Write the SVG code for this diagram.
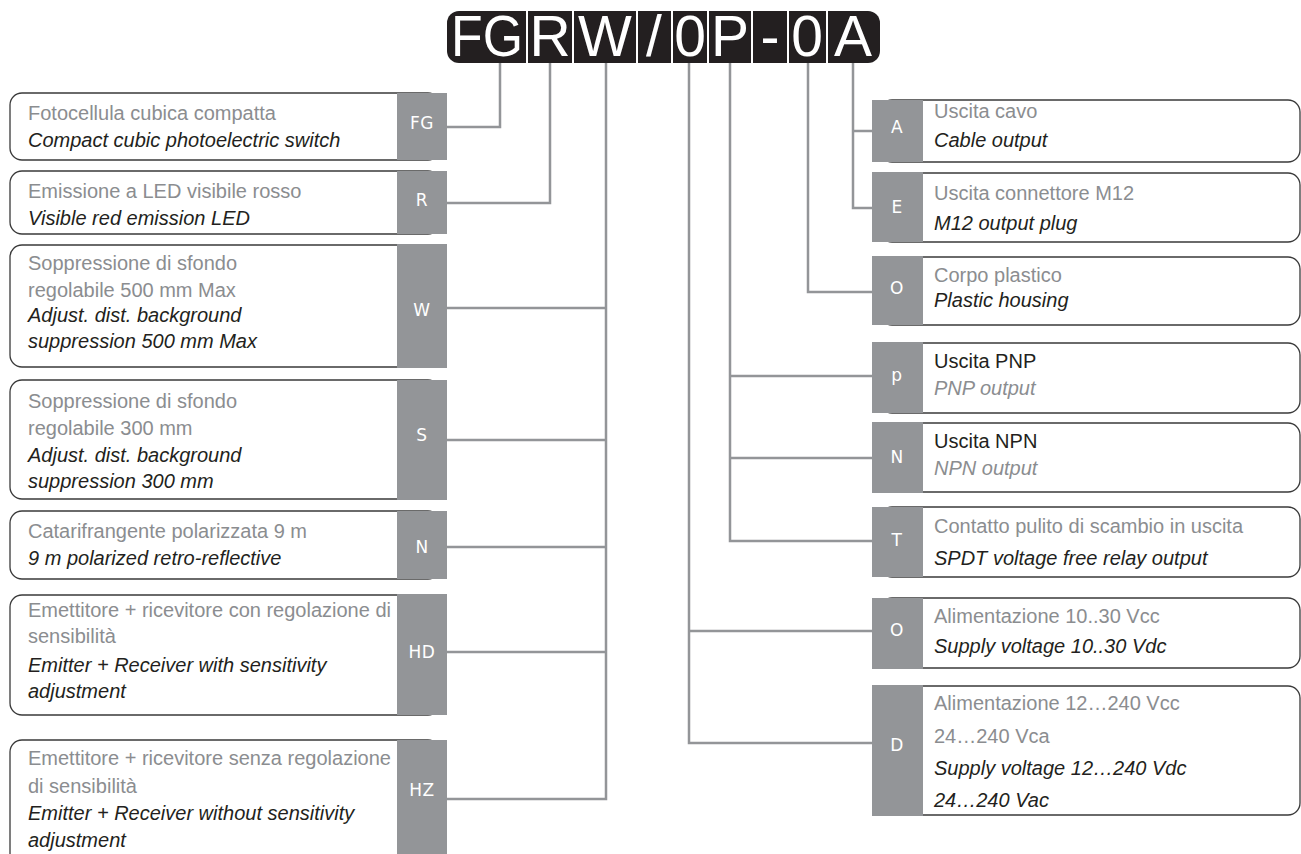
<svg xmlns="http://www.w3.org/2000/svg" width="1301" height="854" viewBox="0 0 1301 854">
<style>
.box{fill:#fff;stroke:#3a3a3a;stroke-width:1.3}
.tag{fill:#939598}
.tl{font-family:"DejaVu Sans",sans-serif;font-size:17px;fill:#fff;text-anchor:middle;letter-spacing:0.5px}
.tx{font-family:"Liberation Sans",Arial,sans-serif;font-size:20px}
.g{fill:#8b8d90}
.k{fill:#231f20}
.i{font-style:italic}
.conn{fill:none;stroke:#939598;stroke-width:2.5}
.hdr{font-family:"Liberation Sans",Arial,sans-serif;font-size:57px;fill:#fff;text-anchor:middle}
.sep{stroke:#fff;stroke-width:2}
</style>
<rect width="1301" height="854" fill="#fff"/>

<g id="header">
<rect x="447" y="11" width="433" height="52" rx="12" fill="#231f20"/>
<g class="sep">
<line x1="527" y1="11" x2="527" y2="63"/>
<line x1="573" y1="11" x2="573" y2="63"/>
<line x1="637" y1="11" x2="637" y2="63"/>
<line x1="672" y1="11" x2="672" y2="63"/>
<line x1="708" y1="11" x2="708" y2="63"/>
<line x1="752" y1="11" x2="752" y2="63"/>
<line x1="788" y1="11" x2="788" y2="63"/>
<line x1="827" y1="11" x2="827" y2="63"/>
</g>
<text class="hdr" x="487" y="56" textLength="72" lengthAdjust="spacingAndGlyphs">FG</text>
<text class="hdr" x="550" y="56">R</text>
<text class="hdr" x="605" y="56">W</text>
<text class="hdr" x="654" y="56">/</text>
<text class="hdr" x="690" y="56">0</text>
<text class="hdr" x="730" y="56">P</text>
<text class="hdr" x="770" y="56">-</text>
<text class="hdr" x="807" y="56">0</text>
<text class="hdr" x="853" y="56">A</text>
</g>

<g id="connectors">
<path class="conn" d="M500,63 V127 H447"/>
<path class="conn" d="M550,63 V203 H447"/>
<path class="conn" d="M606,63 V799 H447 M606,308 H447 M606,440 H447 M606,547 H447 M606,652 H447"/>
<path class="conn" d="M853,63 V208 H872 M853,131 H872"/>
<path class="conn" d="M808,63 V292 H872"/>
<path class="conn" d="M730,63 V541 H872 M730,376 H872 M730,458 H872"/>
<path class="conn" d="M689,63 V743 H872 M689,631 H872"/>
</g>

<g id="node-FG">
<rect class="box" x="10" y="93" width="430" height="67" rx="12"/>
<rect class="tag" x="397" y="93" width="50" height="67"/>
<text class="tl" x="422" y="129">FG</text>
<text class="tx g" x="28" y="120">Fotocellula cubica compatta</text>
<text class="tx k i" x="28" y="147">Compact cubic photoelectric switch</text>
</g>

<g id="node-R">
<rect class="box" x="10" y="171" width="430" height="63" rx="12"/>
<rect class="tag" x="397" y="171" width="50" height="63"/>
<text class="tl" x="422" y="206">R</text>
<text class="tx g" x="28" y="198">Emissione a LED visibile rosso</text>
<text class="tx k i" x="28" y="225">Visible red emission LED</text>
</g>

<g id="node-W">
<rect class="box" x="10" y="245" width="430" height="122" rx="12"/>
<rect class="tag" x="397" y="244" width="50" height="124"/>
<text class="tl" x="422" y="316">W</text>
<text class="tx g" x="28" y="270">Soppressione di sfondo</text>
<text class="tx g" x="28" y="297">regolabile 500 mm Max</text>
<text class="tx k i" x="28" y="322">Adjust. dist. background</text>
<text class="tx k i" x="28" y="348">suppression 500 mm Max</text>
</g>

<g id="node-S">
<rect class="box" x="10" y="380" width="430" height="119" rx="12"/>
<rect class="tag" x="397" y="380" width="50" height="120"/>
<text class="tl" x="422" y="441">S</text>
<text class="tx g" x="28" y="408">Soppressione di sfondo</text>
<text class="tx g" x="28" y="435">regolabile 300 mm</text>
<text class="tx k i" x="28" y="462">Adjust. dist. background</text>
<text class="tx k i" x="28" y="488">suppression 300 mm</text>
</g>

<g id="node-N">
<rect class="box" x="10" y="511" width="430" height="68" rx="12"/>
<rect class="tag" x="397" y="511" width="50" height="68"/>
<text class="tl" x="422" y="553">N</text>
<text class="tx g" x="28" y="538">Catarifrangente polarizzata 9 m</text>
<text class="tx k i" x="28" y="565">9 m polarized retro-reflective</text>
</g>

<g id="node-HD">
<rect class="box" x="10" y="595" width="430" height="120" rx="12"/>
<rect class="tag" x="397" y="594" width="50" height="121"/>
<text class="tl" x="422" y="658">HD</text>
<text class="tx g" x="28" y="617">Emettitore + ricevitore con regolazione di</text>
<text class="tx g" x="28" y="643">sensibilità</text>
<text class="tx k i" x="28" y="672">Emitter + Receiver with sensitivity</text>
<text class="tx k i" x="28" y="698">adjustment</text>
</g>

<g id="node-HZ">
<rect class="box" x="10" y="740" width="430" height="125" rx="12"/>
<rect class="tag" x="397" y="740" width="50" height="125"/>
<text class="tl" x="422" y="796">HZ</text>
<text class="tx g" x="28" y="765">Emettitore + ricevitore senza regolazione</text>
<text class="tx g" x="28" y="793">di sensibilità</text>
<text class="tx k i" x="28" y="820">Emitter + Receiver without  sensitivity</text>
<text class="tx k i" x="28" y="847">adjustment</text>
</g>

<g id="node-A">
<rect class="box" x="880" y="100" width="420" height="62" rx="12"/>
<rect class="tag" x="872" y="100" width="51" height="62"/>
<text class="tl" x="897" y="133">A</text>
<text class="tx g" x="934" y="118">Uscita cavo</text>
<text class="tx k i" x="934" y="147">Cable output</text>
</g>

<g id="node-E">
<rect class="box" x="880" y="173" width="420" height="69" rx="12"/>
<rect class="tag" x="872" y="172" width="51" height="70"/>
<text class="tl" x="897" y="213">E</text>
<text class="tx g" x="934" y="200">Uscita connettore M12</text>
<text class="tx k i" x="934" y="230">M12 output plug</text>
</g>

<g id="node-O-body">
<rect class="box" x="880" y="257" width="420" height="68" rx="12"/>
<rect class="tag" x="872" y="256" width="51" height="69"/>
<text class="tl" x="897" y="294">O</text>
<text class="tx g" x="934" y="282">Corpo plastico</text>
<text class="tx k i" x="934" y="307">Plastic housing</text>
</g>

<g id="node-P">
<rect class="box" x="880" y="343" width="420" height="70" rx="12"/>
<rect class="tag" x="872" y="342" width="51" height="71"/>
<text class="tl" x="897" y="381">p</text>
<text class="tx k" x="934" y="368">Uscita PNP</text>
<text class="tx g i" x="934" y="395">PNP output</text>
</g>

<g id="node-N-out">
<rect class="box" x="880" y="423" width="420" height="69" rx="12"/>
<rect class="tag" x="872" y="422" width="51" height="71"/>
<text class="tl" x="897" y="463">N</text>
<text class="tx k" x="934" y="448">Uscita NPN</text>
<text class="tx g i" x="934" y="475">NPN output</text>
</g>

<g id="node-T">
<rect class="box" x="880" y="507" width="420" height="70" rx="12"/>
<rect class="tag" x="872" y="507" width="51" height="70"/>
<text class="tl" x="897" y="546">T</text>
<text class="tx g" x="934" y="533">Contatto pulito di scambio in uscita</text>
<text class="tx k i" x="934" y="565">SPDT voltage free relay output</text>
</g>

<g id="node-O-supply">
<rect class="box" x="880" y="598" width="420" height="70" rx="12"/>
<rect class="tag" x="872" y="598" width="51" height="71"/>
<text class="tl" x="897" y="636">O</text>
<text class="tx g" x="934" y="623">Alimentazione 10..30 Vcc</text>
<text class="tx k i" x="934" y="653">Supply voltage 10..30 Vdc</text>
</g>

<g id="node-D">
<rect class="box" x="880" y="686" width="420" height="129" rx="12"/>
<rect class="tag" x="872" y="685" width="51" height="131"/>
<text class="tl" x="897" y="751">D</text>
<text class="tx g" x="934" y="710">Alimentazione 12…240 Vcc</text>
<text class="tx g" x="934" y="743">24…240 Vca</text>
<text class="tx k i" x="934" y="775">Supply voltage 12…240 Vdc</text>
<text class="tx k i" x="934" y="807">24…240 Vac</text>
</g>
</svg>
